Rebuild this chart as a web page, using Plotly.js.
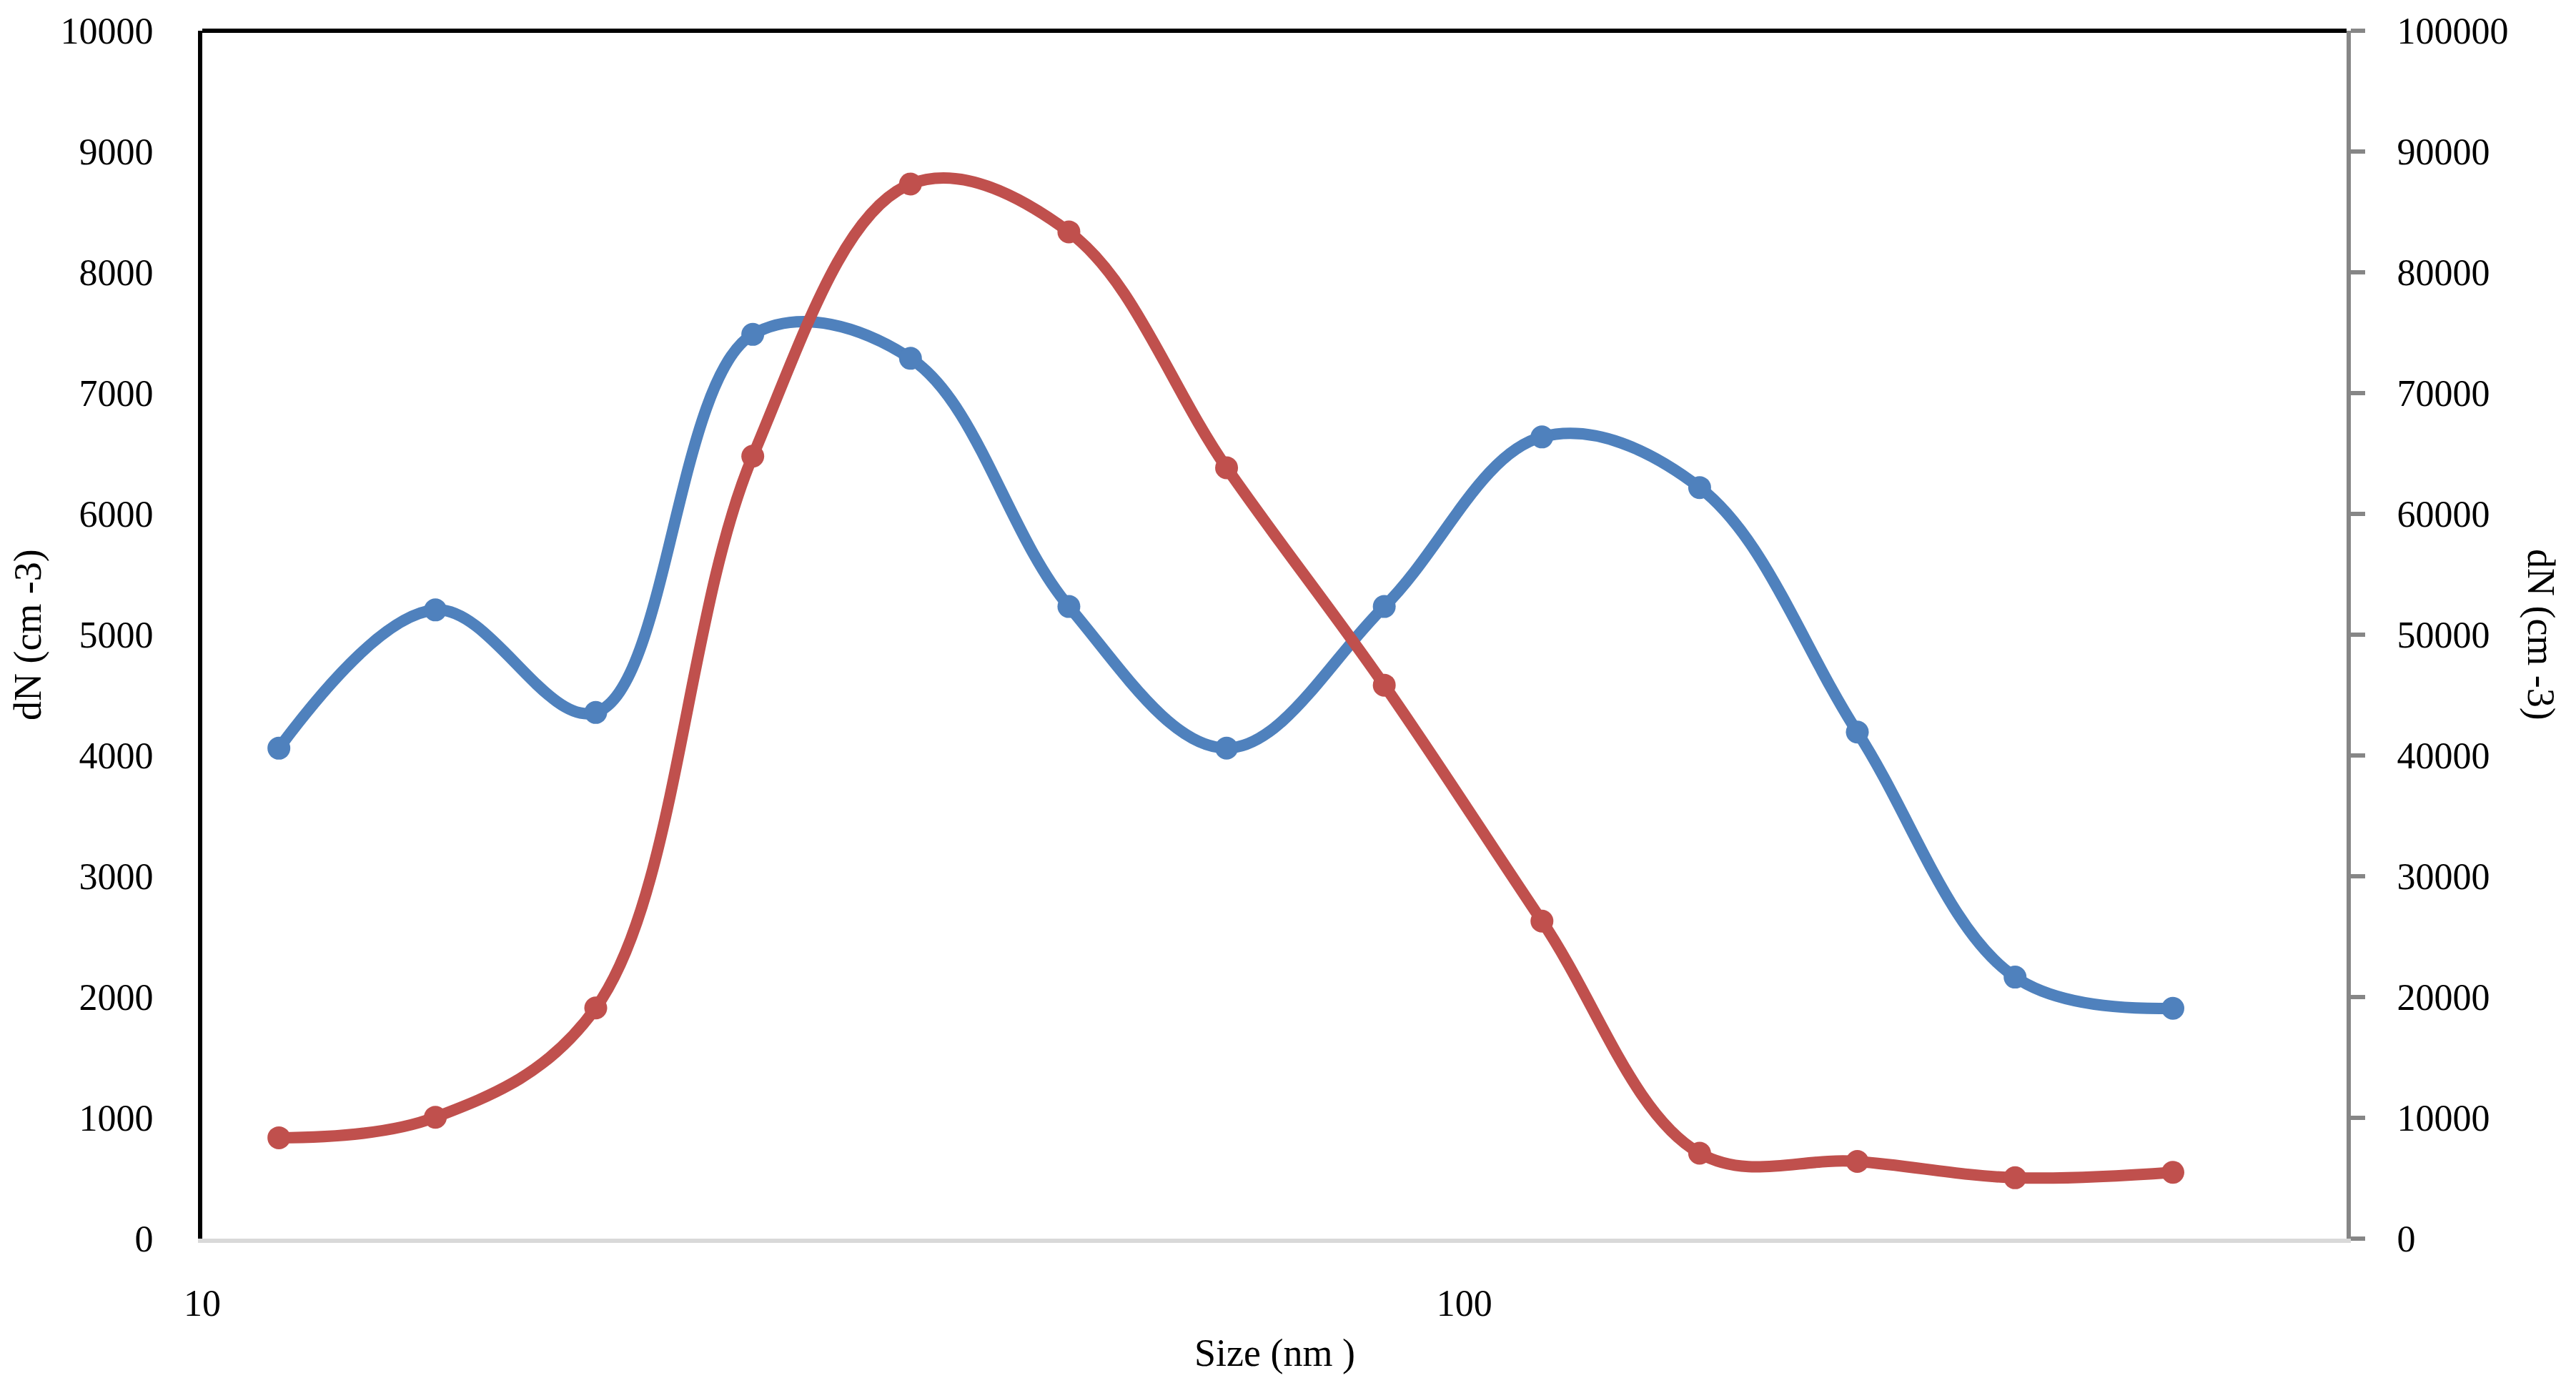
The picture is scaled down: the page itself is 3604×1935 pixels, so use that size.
<!DOCTYPE html>
<html>
<head>
<meta charset="utf-8">
<script src="https://cdn.plot.ly/plotly-3.0.1.min.js"></script>
<style>html,body{margin:0;padding:0;background:#fff;}#chart{width:3604px;height:1935px;}</style>
</head>
<body>
<div id="chart"></div>
<script>
// Particle size bins (nm)
const sizes = [11.5, 15.3, 20.5, 27.3, 36.4, 48.6, 64.8, 86.4, 115.2, 153.6, 204.8, 273.1, 364.2];
// Left-axis series dN (cm-3)
const dnLeft = [4060, 5205, 4356, 7486, 7288, 5233, 4061, 5233, 6637, 6218, 4194, 2165, 1907];
// Right-axis series dN (cm-3)
const dnRight = [8350, 10050, 19100, 64780, 87310, 83350, 63820, 45820, 26290, 7070, 6390, 5040, 5490];

const xTickVals = [10, 100];
const xTickText = ['10', '100'];
const leftTicks = [0,1000,2000,3000,4000,5000,6000,7000,8000,9000,10000];
const leftTickText = ['0','1000','2000','3000','4000','5000','6000','7000','8000','9000','10000'];
const rightTicks = [0,10000,20000,30000,40000,50000,60000,70000,80000,90000,100000];
const rightTickText = ['0','10000','20000','30000','40000','50000','60000','70000','80000','90000','100000'];

const xTitle = 'Size (nm )';
const yTitle = 'dN (cm -3)';

const font = 'Liberation Serif, Times New Roman, serif';

const traces = [
  {
    x: sizes, y: dnLeft, type: 'scatter', mode: 'lines+markers',
    line: {color: '#4F81BD', width: 16, shape: 'spline', smoothing: 1.05},
    marker: {color: '#4F81BD', size: 32, symbol: 'circle'},
    yaxis: 'y', showlegend: false
  },
  {
    x: sizes, y: dnRight, type: 'scatter', mode: 'lines+markers',
    line: {color: '#C0504D', width: 16, shape: 'spline', smoothing: 1.05},
    marker: {color: '#C0504D', size: 32, symbol: 'circle'},
    yaxis: 'y2', showlegend: false
  }
];

const layout = {
  width: 3604, height: 1935,
  margin: {l: 283, r: 321, t: 43, b: 202, pad: 0},
  paper_bgcolor: '#ffffff', plot_bgcolor: '#ffffff',
  font: {family: font, size: 52, color: '#000000'},
  showlegend: false,
  xaxis: {
    type: 'log', range: [1, Math.log10(500)],
    tickvals: xTickVals, ticktext: xTickText,
    showgrid: false, zeroline: false,
    showline: true, linecolor: '#D9D9D9', linewidth: 6,
    ticks: '', ticklabelstandoff: 40,
    tickfont: {family: font, size: 52, color: '#000'}
  },
  yaxis: {
    range: [0, 10000], tickvals: leftTicks, ticktext: leftTickText,
    showgrid: false, zeroline: false,
    showline: true, linecolor: '#000000', linewidth: 6,
    ticks: '', ticklabelstandoff: 52,
    tickfont: {family: font, size: 52, color: '#000'}
  },
  yaxis2: {
    range: [0, 100000], tickvals: rightTicks, ticktext: rightTickText,
    overlaying: 'y', side: 'right',
    showgrid: false, zeroline: false,
    showline: true, linecolor: '#868686', linewidth: 6,
    ticks: 'outside', ticklen: 20, tickwidth: 6, tickcolor: '#868686',
    ticklabelstandoff: 34,
    tickfont: {family: font, size: 52, color: '#000'}
  },
  shapes: [
    {type: 'line', xref: 'paper', yref: 'paper', x0: 0, x1: 1, y0: 1, y1: 1,
     line: {color: '#000000', width: 6}}
  ],
  annotations: [
    {text: xTitle, xref: 'paper', yref: 'paper', x: 0.5, y: -0.0947,
     xanchor: 'center', yanchor: 'middle', showarrow: false,
     font: {family: font, size: 54, color: '#000'}},
    {text: yTitle, xref: 'paper', yref: 'paper', x: -0.0813, y: 0.5,
     xanchor: 'center', yanchor: 'middle', showarrow: false, textangle: -90,
     font: {family: font, size: 54, color: '#000'}},
    {text: yTitle, xref: 'paper', yref: 'paper', x: 1.0907, y: 0.5,
     xanchor: 'center', yanchor: 'middle', showarrow: false, textangle: 90,
     font: {family: font, size: 54, color: '#000'}}
  ]
};

Plotly.newPlot('chart', traces, layout, {displayModeBar: false, staticPlot: true});
</script>
</body>
</html>
